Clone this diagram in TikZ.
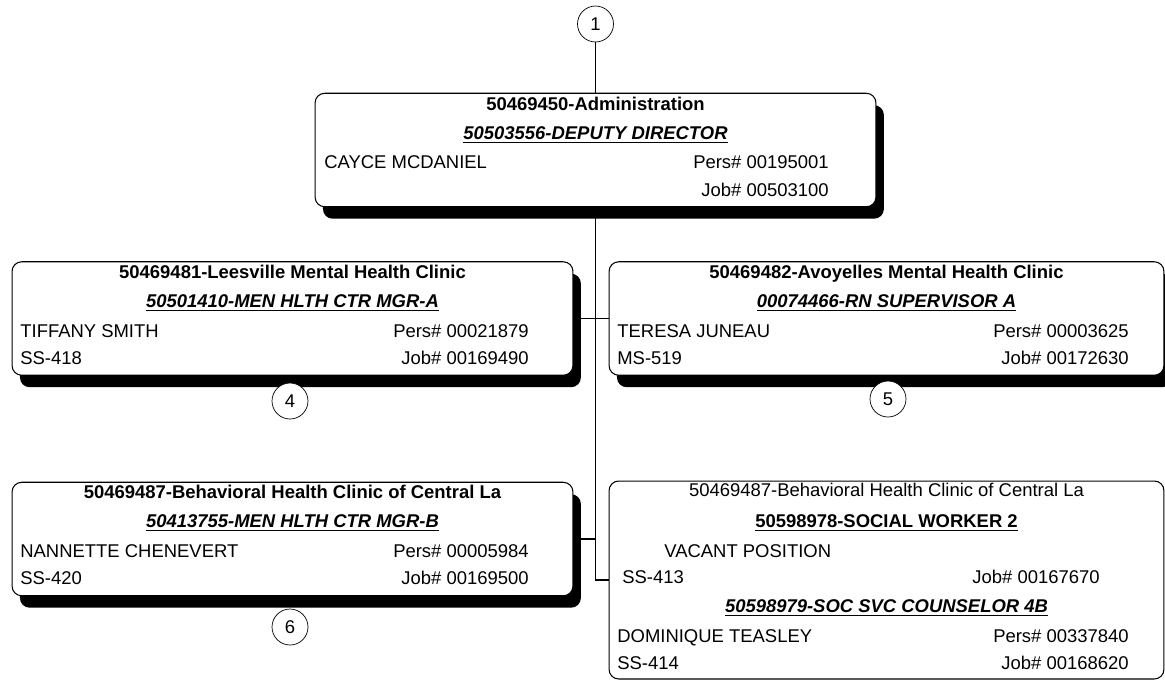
\documentclass[tikz,border=0pt]{standalone}
\usepackage{fontspec}
\setmainfont{Liberation Sans}
\usetikzlibrary{shadows}

\tikzset{
	kasten/.style={draw, line width=0.6pt, fill=white, rounded corners=5.5pt,
		inner sep=0pt, minimum width=11.22cm, minimum height=2.27cm},
	schatten/.style={drop shadow={shadow xshift=4.5pt, shadow yshift=-6.8pt,
		opacity=1, fill=black}},
	kreis/.style={draw, circle, line width=0.4pt, fill=white,
		inner sep=0pt, minimum size=0.72cm},
	zeile/.style={inner sep=0pt, font=\fontsize{10.5}{12}\selectfont},
	linie/.style={line width=0.6pt}
}

\begin{document}
\begin{tikzpicture}[x=0.02cm, y=-0.02cm]
	\useasboundingbox (0,0) rectangle (1165,680);
	% die kaesten
	\node[kasten, schatten] (admin) at (595.5,150) {};
	\node[kasten, schatten] (leesville) at (292.5,318.5) {};
	\node[kasten, schatten, minimum width=11.1cm] (avoyelles) at (886.5,318.5) {};
	\node[kasten, schatten] (bhc) at (292.5,539) {};
	\node[kasten, minimum width=11.1cm, minimum height=3.96cm] (vakant) at (886.5,580) {};
	% verbindungen
	\draw[linie] (admin.south) |- (vakant.west);
	\draw[linie] (leesville.east) -- (avoyelles.west);
	\draw[linie] (bhc.east) -- (bhc.east -| admin.south);
	% nummern
	\node[kreis] (k1) at (595.5,24) {\fontsize{10.5}{12}\selectfont 1};
	\node[kreis] (k4) at (290,401) {\fontsize{10.5}{12}\selectfont 4};
	\node[kreis] (k5) at (888,399) {\fontsize{10.5}{12}\selectfont 5};
	\node[kreis] (k6) at (290,627) {\fontsize{10.5}{12}\selectfont 6};
	\draw[linie] (k1) -- (admin.north);
	% erster kasten
	\node[zeile, anchor=mid] (a1) at (595.5,106) {\textbf{50469450-Administration}};
	\node[zeile, anchor=mid] (a2) at (595.5,135) {\textbf{\textit{\underline{50503556-DEPUTY DIRECTOR}}}};
	\node[zeile, anchor=mid west] (a3) at (324,164) {CAYCE MCDANIEL};
	\node[zeile, anchor=mid east] (a4) at (829,164) {Pers\# 00195001};
	\node[zeile, anchor=mid east] (a5) at (829,192) {Job\# 00503100};
	% leesville
	\node[zeile, anchor=mid] (l1) at (292.5,274) {\textbf{50469481-Leesville Mental Health Clinic}};
	\node[zeile, anchor=mid] (l2) at (292.5,303) {\textbf{\textit{\underline{50501410-MEN HLTH CTR MGR-A}}}};
	\node[zeile, anchor=mid west] (l3) at (20,333) {TIFFANY SMITH};
	\node[zeile, anchor=mid east] (l4) at (529,333) {Pers\# 00021879};
	\node[zeile, anchor=mid west] (l5) at (20,360) {SS-418};
	\node[zeile, anchor=mid east] (l6) at (529,360) {Job\# 00169490};
	% avoyelles
	\node[zeile, anchor=mid] (v1) at (886.5,274) {\textbf{50469482-Avoyelles Mental Health Clinic}};
	\node[zeile, anchor=mid] (v2) at (886.5,303) {\textbf{\textit{\underline{00074466-RN SUPERVISOR A}}}};
	\node[zeile, anchor=mid west] (v3) at (617,333) {TERESA JUNEAU};
	\node[zeile, anchor=mid east] (v4) at (1129,333) {Pers\# 00003625};
	\node[zeile, anchor=mid west] (v5) at (617,360) {MS-519};
	\node[zeile, anchor=mid east] (v6) at (1129,360) {Job\# 00172630};
	% behavioral health links
	\node[zeile, anchor=mid] (b1) at (292.5,494) {\textbf{50469487-Behavioral Health Clinic of Central La}};
	\node[zeile, anchor=mid] (b2) at (292.5,523) {\textbf{\textit{\underline{50413755-MEN HLTH CTR MGR-B}}}};
	\node[zeile, anchor=mid west] (b3) at (20,553) {NANNETTE CHENEVERT};
	\node[zeile, anchor=mid east] (b4) at (529,553) {Pers\# 00005984};
	\node[zeile, anchor=mid west] (b5) at (20,580) {SS-420};
	\node[zeile, anchor=mid east] (b6) at (529,580) {Job\# 00169500};
	% behavioral health rechts, zwei stellen
	\node[zeile, anchor=mid] (s1) at (886.5,492) {50469487-Behavioral Health Clinic of Central La};
	\node[zeile, anchor=mid] (s2) at (886.5,523) {\textbf{\underline{50598978-SOCIAL WORKER 2}}};
	\node[zeile, anchor=mid west] (s3) at (664,553) {VACANT POSITION};
	\node[zeile, anchor=mid west] (s4) at (622,579) {SS-413};
	\node[zeile, anchor=mid east] (s5) at (1100,579) {Job\# 00167670};
	\node[zeile, anchor=mid] (s6) at (886.5,608) {\textbf{\textit{\underline{50598979-SOC SVC COUNSELOR 4B}}}};
	\node[zeile, anchor=mid west] (s7) at (617,638) {DOMINIQUE TEASLEY};
	\node[zeile, anchor=mid east] (s8) at (1129,638) {Pers\# 00337840};
	\node[zeile, anchor=mid west] (s9) at (617,665) {SS-414};
	\node[zeile, anchor=mid east] (s10) at (1129,665) {Job\# 00168620};
\end{tikzpicture}
\end{document}
